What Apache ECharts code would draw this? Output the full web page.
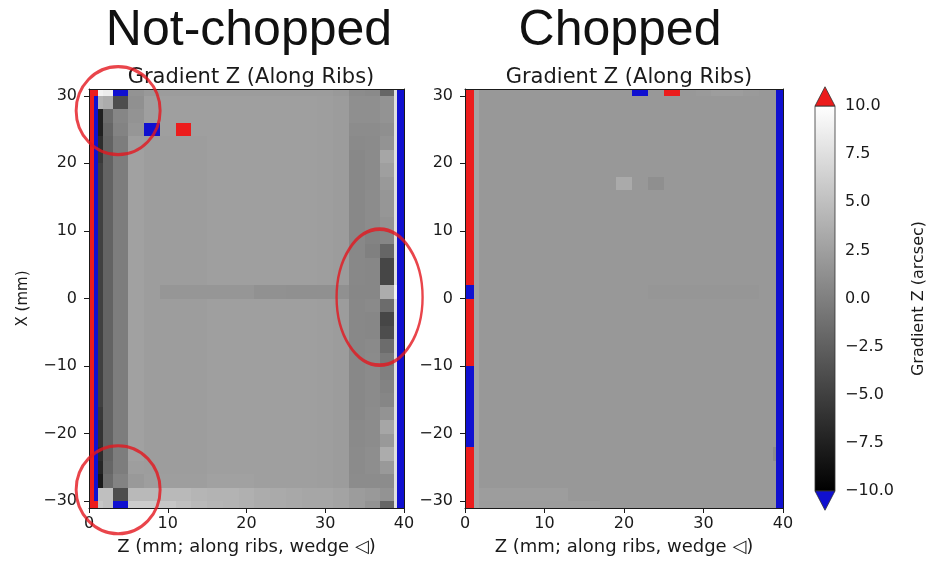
<!DOCTYPE html>
<html>
<head>
<meta charset="utf-8">
<title>Gradient Z (Along Ribs)</title>
<script src="https://cdn.jsdelivr.net/npm/echarts@6.0.0/dist/echarts.min.js"></script>
<style>
  html, body { margin: 0; padding: 0; background: #fff; }
  #chart { width: 928px; height: 561px; }
</style>
</head>
<body>
<div id="chart"></div>
<script>
// cell edges (mm). Z runs left -> right, X runs top -> bottom
const zEdges = [0, 0.6, 1.1, 1.8, 3, 5, 7, 9, 11, 13, 15, 17, 19, 21, 23, 25, 27, 29, 31, 33, 35, 37, 38.7, 39.1, 40];
const xEdges = [31, 30, 28, 26, 24, 22, 20, 18, 16, 14, 12, 10, 8, 6, 4, 2, 0,
  -2, -4, -6, -8, -10, -12, -14, -16, -18, -20, -22, -24, -26, -28, -30, -31];

// gradient Z (arcsec), one row per X band, top to bottom
const notChopped = [
  [12, 12, 9.0, 8.5, -12, 1.5, 2.0, 2.2, 2.2, 2.2, 2.2, 2.2, 2.2, 2.2, 2.2, 2.2, 2.2, 2.2, 2.0, 1.0, 0.8, -2.0, 7.5, -12],
  [12, -12, 4.0, 3.5, -4.0, 1.3, 2.5, 2.5, 2.5, 2.5, 2.5, 2.5, 2.5, 2.5, 2.5, 2.5, 2.5, 2.4, 2.2, 1.2, 1.2, 1.5, 7.5, -12],
  [12, -12, -7.5, -1.5, 0.5, 1.5, 2.5, 2.5, 2.5, 2.5, 2.5, 2.5, 2.5, 2.5, 2.5, 2.5, 2.5, 2.4, 2.2, 1.2, 1.2, 1.5, 7.5, -12],
  [12, -12, -7.5, -2.0, 0.3, 1.8, -12, 2.5, 12, 2.5, 2.5, 2.5, 2.5, 2.5, 2.5, 2.5, 2.5, 2.4, 2.2, 1.0, 1.0, 1.2, 7.5, -12],
  [12, -12, -6.5, -2.2, -0.2, 2.4, 2.3, 2.3, 2.3, 2.3, 2.5, 2.5, 2.5, 2.5, 2.5, 2.5, 2.5, 2.4, 2.2, 0.8, 0.9, 1.5, 7.5, -12],
  [12, -12, -5.5, -2.2, -0.2, 2.6, 2.3, 2.3, 2.3, 2.3, 2.5, 2.5, 2.5, 2.5, 2.5, 2.5, 2.5, 2.4, 2.2, 0.7, 0.9, 3.0, 7.5, -12],
  [12, -12, -5.0, -2.2, -0.2, 2.6, 2.3, 2.3, 2.3, 2.3, 2.5, 2.5, 2.5, 2.5, 2.5, 2.5, 2.5, 2.4, 2.2, 0.7, 0.9, 2.5, 7.5, -12],
  [12, -12, -5.0, -2.2, -0.2, 2.6, 2.3, 2.3, 2.3, 2.3, 2.5, 2.5, 2.5, 2.5, 2.5, 2.5, 2.5, 2.4, 2.2, 0.7, 0.9, 2.0, 7.5, -12],
  [12, -12, -5.0, -2.2, -0.2, 2.6, 2.3, 2.3, 2.3, 2.3, 2.5, 2.5, 2.5, 2.5, 2.5, 2.5, 2.5, 2.4, 2.2, 0.7, 1.0, 1.8, 7.5, -12],
  [12, -12, -5.0, -2.2, -0.2, 2.6, 2.3, 2.3, 2.3, 2.3, 2.5, 2.5, 2.5, 2.5, 2.5, 2.5, 2.5, 2.4, 2.2, 0.7, 1.0, 1.8, 7.5, -12],
  [12, -12, -5.0, -2.2, -0.2, 2.6, 2.3, 2.3, 2.3, 2.3, 2.5, 2.5, 2.5, 2.5, 2.5, 2.5, 2.5, 2.4, 2.2, 0.7, 1.0, 1.5, 7.5, -12],
  [12, -12, -5.0, -2.2, -0.2, 2.6, 2.3, 2.3, 2.3, 2.3, 2.5, 2.5, 2.5, 2.5, 2.5, 2.5, 2.5, 2.4, 2.2, 0.7, 0.3, 0.5, 7.5, -12],
  [12, -12, -5.0, -2.2, -0.2, 2.6, 2.3, 2.3, 2.3, 2.3, 2.5, 2.5, 2.5, 2.5, 2.5, 2.5, 2.5, 2.4, 2.2, 0.7, 0.0, -2.0, 7.5, -12],
  [12, -12, -5.0, -2.2, -0.2, 2.6, 2.3, 2.3, 2.3, 2.3, 2.5, 2.5, 2.5, 2.5, 2.5, 2.5, 2.5, 2.4, 2.2, 0.7, 0.6, -4.5, 7.5, -12],
  [12, -12, -5.0, -2.2, -0.2, 2.6, 2.3, 2.3, 2.3, 2.3, 2.5, 2.5, 2.5, 2.5, 2.5, 2.5, 2.5, 2.4, 2.2, 0.7, 0.6, -4.5, 7.5, -12],
  [12, -12, -5.0, -2.2, -0.2, 2.6, 2.3, 1.8, 1.8, 1.8, 1.8, 1.8, 1.8, 1.4, 1.4, 1.3, 1.3, 1.3, 1.3, 0.6, 0.6, 3.5, 9.0, -12],
  [12, -12, -5.0, -2.2, -0.2, 2.6, 2.3, 2.3, 2.3, 2.3, 2.5, 2.5, 2.5, 2.5, 2.5, 2.5, 2.5, 2.4, 2.2, 0.7, 0.8, -1.5, 7.5, -12],
  [12, -12, -5.0, -2.2, -0.2, 2.6, 2.3, 2.3, 2.3, 2.3, 2.5, 2.5, 2.5, 2.5, 2.5, 2.5, 2.5, 2.4, 2.2, 0.7, 0.6, -4.5, 7.5, -12],
  [12, -12, -5.0, -2.2, -0.2, 2.6, 2.3, 2.3, 2.3, 2.3, 2.5, 2.5, 2.5, 2.5, 2.5, 2.5, 2.5, 2.4, 2.2, 0.7, 0.6, -4.0, 7.5, -12],
  [12, -12, -5.0, -2.2, -0.2, 2.6, 2.3, 2.3, 2.3, 2.3, 2.5, 2.5, 2.5, 2.5, 2.5, 2.5, 2.5, 2.4, 2.2, 0.7, 0.8, -1.5, 7.5, -12],
  [12, -12, -5.0, -2.2, -0.2, 2.6, 2.3, 2.3, 2.3, 2.3, 2.5, 2.5, 2.5, 2.5, 2.5, 2.5, 2.5, 2.4, 2.2, 0.7, 0.9, -0.5, 7.5, -12],
  [12, -12, -5.0, -2.2, -0.2, 2.6, 2.3, 2.3, 2.3, 2.3, 2.5, 2.5, 2.5, 2.5, 2.5, 2.5, 2.5, 2.4, 2.2, 0.7, 0.9, 0.0, 7.5, -12],
  [12, -12, -5.0, -2.2, -0.2, 2.6, 2.3, 2.3, 2.3, 2.3, 2.5, 2.5, 2.5, 2.5, 2.5, 2.5, 2.5, 2.4, 2.2, 0.7, 0.9, 0.3, 7.5, -12],
  [12, -12, -5.0, -2.2, -0.2, 2.6, 2.3, 2.3, 2.3, 2.3, 2.5, 2.5, 2.5, 2.5, 2.5, 2.5, 2.5, 2.4, 2.2, 0.7, 0.9, 0.5, 7.5, -12],
  [12, -12, -5.5, -2.2, -0.2, 2.6, 2.3, 2.3, 2.3, 2.3, 2.5, 2.5, 2.5, 2.5, 2.5, 2.5, 2.5, 2.4, 2.2, 0.7, 1.0, 1.5, 7.5, -12],
  [12, -12, -6.0, -2.2, -0.2, 2.6, 2.3, 2.3, 2.3, 2.3, 2.5, 2.5, 2.5, 2.5, 2.5, 2.5, 2.5, 2.4, 2.2, 0.8, 1.0, 3.0, 7.5, -12],
  [12, -12, -6.0, -2.2, -0.2, 2.6, 2.3, 2.3, 2.3, 2.3, 2.5, 2.5, 2.5, 2.5, 2.5, 2.5, 2.5, 2.4, 2.2, 0.8, 1.0, 2.0, 7.5, -12],
  [12, -12, -6.5, -2.2, -0.2, 2.6, 2.3, 2.3, 2.3, 2.3, 2.5, 2.5, 2.5, 2.5, 2.5, 2.5, 2.5, 2.4, 2.2, 0.9, 1.1, 3.5, 7.5, -12],
  [12, -12, -7.0, -2.0, -0.2, 2.4, 2.3, 2.3, 2.3, 2.3, 2.5, 2.5, 2.5, 2.5, 2.5, 2.5, 2.5, 2.4, 2.2, 0.9, 1.1, 2.0, 7.5, -12],
  [12, -12, -8.0, -1.5, 0.3, 2.0, 2.4, 2.4, 2.4, 2.4, 2.6, 2.6, 2.6, 2.5, 2.5, 2.5, 2.5, 2.4, 2.2, 1.0, 1.0, 1.0, 7.5, -12],
  [12, -12, 5.0, 5.0, -4.0, 4.5, 4.5, 4.5, 4.5, 4.2, 4.0, 4.0, 3.8, 3.5, 3.3, 3.2, 3.0, 3.0, 2.8, 2.2, 2.0, 1.5, 7.5, -12],
  [12, 12, 5.5, 5.0, -12, 6.0, 6.0, 5.5, 5.0, 4.5, 4.2, 4.0, 3.8, 3.5, 3.3, 3.2, 3.0, 3.0, 2.8, 2.2, 1.5, -2.0, 7.5, -12]
];

const chopped = [
  [12, 12, 2.8, 1.9, 1.9, 1.9, 1.9, 1.9, 1.9, 1.9, 1.9, 1.9, 1.9, -12, 1.9, 12, 1.9, 2.1, 2.3, 2.3, 2.1, 1.9, 1.9, -12],
  [12, 12, 2.8, 1.9, 1.9, 1.9, 1.9, 1.9, 1.9, 1.9, 1.9, 1.9, 1.9, 1.9, 1.9, 1.9, 1.9, 1.9, 1.9, 1.9, 1.9, 1.9, 1.9, -12],
  [12, 12, 2.8, 1.9, 1.9, 1.9, 1.9, 1.9, 1.9, 1.9, 1.9, 1.9, 1.9, 1.9, 1.9, 1.9, 1.9, 1.9, 1.9, 1.9, 1.9, 1.9, 1.9, -12],
  [12, 12, 2.8, 1.9, 1.9, 1.9, 1.9, 1.9, 1.9, 1.9, 1.9, 1.9, 1.9, 1.9, 1.9, 1.9, 1.9, 1.9, 1.9, 1.9, 1.9, 1.9, 1.9, -12],
  [12, 12, 2.8, 1.9, 1.9, 1.9, 1.9, 1.9, 1.9, 1.9, 1.9, 1.9, 1.9, 1.9, 1.9, 1.9, 1.9, 1.9, 1.9, 1.9, 1.9, 1.9, 1.9, -12],
  [12, 12, 2.8, 1.9, 1.9, 1.9, 1.9, 1.9, 1.9, 1.9, 1.9, 1.9, 1.9, 1.9, 1.9, 1.9, 1.9, 1.9, 1.9, 1.9, 1.9, 1.9, 1.9, -12],
  [12, 12, 2.8, 1.9, 1.9, 1.9, 1.9, 1.9, 1.9, 1.9, 1.9, 1.9, 1.9, 1.9, 1.9, 1.9, 1.9, 1.9, 1.9, 1.9, 1.9, 1.9, 1.9, -12],
  [12, 12, 2.8, 1.9, 1.9, 1.9, 1.9, 1.9, 1.9, 1.9, 1.9, 1.9, 3.3, 1.9, 1.2, 1.9, 1.9, 1.9, 1.9, 1.9, 1.9, 1.9, 1.9, -12],
  [12, 12, 2.8, 1.9, 1.9, 1.9, 1.9, 1.9, 1.9, 1.9, 1.9, 1.9, 1.9, 1.9, 1.9, 1.9, 1.9, 1.9, 1.9, 1.9, 1.9, 1.9, 1.9, -12],
  [12, 12, 2.8, 1.9, 1.9, 1.9, 1.9, 1.9, 1.9, 1.9, 1.9, 1.9, 1.9, 1.9, 1.9, 1.9, 1.9, 1.9, 1.9, 1.9, 1.9, 1.9, 1.9, -12],
  [12, 12, 2.8, 1.9, 1.9, 1.9, 1.9, 1.9, 1.9, 1.9, 1.9, 1.9, 1.9, 1.9, 1.9, 1.9, 1.9, 1.9, 1.9, 1.9, 1.9, 1.9, 1.9, -12],
  [12, 12, 2.8, 1.9, 1.9, 1.9, 1.9, 1.9, 1.9, 1.9, 1.9, 1.9, 1.9, 1.9, 1.9, 1.9, 1.9, 1.9, 1.9, 1.9, 1.9, 1.9, 1.9, -12],
  [12, 12, 2.8, 1.9, 1.9, 1.9, 1.9, 1.9, 1.9, 1.9, 1.9, 1.9, 1.9, 1.9, 1.9, 1.9, 1.9, 1.9, 1.9, 1.9, 1.9, 1.9, 1.9, -12],
  [12, 12, 2.8, 1.9, 1.9, 1.9, 1.9, 1.9, 1.9, 1.9, 1.9, 1.9, 1.9, 1.9, 1.9, 1.9, 1.9, 1.9, 1.9, 1.9, 1.9, 1.9, 1.9, -12],
  [12, 12, 2.8, 1.9, 1.9, 1.9, 1.9, 1.9, 1.9, 1.9, 1.9, 1.9, 1.9, 1.9, 1.9, 1.9, 1.9, 1.9, 1.9, 1.9, 1.9, 1.9, 1.9, -12],
  [-12, -12, 2.8, 1.9, 1.9, 1.9, 1.9, 1.9, 1.9, 1.9, 1.9, 1.9, 1.9, 1.9, 1.75, 1.75, 1.75, 1.75, 1.75, 1.75, 1.75, 1.9, 1.9, -12],
  [12, 12, 2.8, 1.9, 1.9, 1.9, 1.9, 1.9, 1.9, 1.9, 1.9, 1.9, 1.9, 1.9, 1.9, 1.9, 1.9, 1.9, 1.9, 1.9, 1.9, 1.9, 1.9, -12],
  [12, 12, 2.8, 1.9, 1.9, 1.9, 1.9, 1.9, 1.9, 1.9, 1.9, 1.9, 1.9, 1.9, 1.9, 1.9, 1.9, 1.9, 1.9, 1.9, 1.9, 1.9, 1.9, -12],
  [12, 12, 2.8, 1.9, 1.9, 1.9, 1.9, 1.9, 1.9, 1.9, 1.9, 1.9, 1.9, 1.9, 1.9, 1.9, 1.9, 1.9, 1.9, 1.9, 1.9, 1.9, 1.9, -12],
  [12, 12, 2.8, 1.9, 1.9, 1.9, 1.9, 1.9, 1.9, 1.9, 1.9, 1.9, 1.9, 1.9, 1.9, 1.9, 1.9, 1.9, 1.9, 1.9, 1.9, 1.9, 1.9, -12],
  [12, 12, 2.8, 1.9, 1.9, 1.9, 1.9, 1.9, 1.9, 1.9, 1.9, 1.9, 1.9, 1.9, 1.9, 1.9, 1.9, 1.9, 1.9, 1.9, 1.9, 1.9, 1.9, -12],
  [-12, -12, 2.8, 1.9, 1.9, 1.9, 1.9, 1.9, 1.9, 1.9, 1.9, 1.9, 1.9, 1.9, 1.9, 1.9, 1.9, 1.9, 1.9, 1.9, 1.9, 1.9, 1.9, -12],
  [-12, -12, 2.8, 1.9, 1.9, 1.9, 1.9, 1.9, 1.9, 1.9, 1.9, 1.9, 1.9, 1.9, 1.9, 1.9, 1.9, 1.9, 1.9, 1.9, 1.9, 1.9, 1.9, -12],
  [-12, -12, 2.8, 1.9, 1.9, 1.9, 1.9, 1.9, 1.9, 1.9, 1.9, 1.9, 1.9, 1.9, 1.9, 1.9, 1.9, 1.9, 1.9, 1.9, 1.9, 1.9, 1.9, -12],
  [-12, -12, 2.8, 1.9, 1.9, 1.9, 1.9, 1.9, 1.9, 1.9, 1.9, 1.9, 1.9, 1.9, 1.9, 1.9, 1.9, 1.9, 1.9, 1.9, 1.9, 1.9, 1.9, -12],
  [-12, -12, 2.8, 1.9, 1.9, 1.9, 1.9, 1.9, 1.9, 1.9, 1.9, 1.9, 1.9, 1.9, 1.9, 1.9, 1.9, 1.9, 1.9, 1.9, 1.9, 1.9, 1.9, -12],
  [-12, -12, 2.8, 1.9, 1.9, 1.9, 1.9, 1.9, 1.9, 1.9, 1.9, 1.9, 1.9, 1.9, 1.9, 1.9, 1.9, 1.9, 1.9, 1.9, 1.9, 1.9, 1.9, -12],
  [12, 12, 2.8, 1.9, 1.9, 1.9, 1.9, 1.9, 1.9, 1.9, 1.9, 1.9, 1.9, 1.9, 1.9, 1.9, 1.9, 1.9, 1.9, 1.9, 1.9, 1.9, 1.0, -12],
  [12, 12, 2.8, 1.9, 1.9, 1.9, 1.9, 1.9, 1.9, 1.9, 1.9, 1.9, 1.9, 1.9, 1.9, 1.9, 1.9, 1.9, 1.9, 1.9, 1.9, 1.9, 1.9, -12],
  [12, 12, 2.8, 1.9, 1.9, 1.9, 1.9, 1.9, 1.9, 1.9, 1.9, 1.9, 1.9, 1.9, 1.9, 1.9, 1.9, 1.9, 1.9, 1.9, 1.9, 1.9, 1.9, -12],
  [12, 12, 2.8, 2.3, 2.3, 2.3, 2.3, 2.3, 2.3, 1.9, 1.9, 1.9, 1.9, 1.9, 1.9, 1.9, 1.9, 1.9, 1.9, 1.9, 1.9, 1.9, 1.9, -12],
  [12, 12, 2.8, 2.2, 2.2, 2.2, 2.2, 2.2, 2.2, 2.2, 2.2, 1.9, 1.9, 1.9, 1.9, 1.9, 1.9, 1.9, 1.9, 1.9, 1.9, 1.9, 1.9, -12]
];

const zTicks = [0, 10, 20, 30, 40];
const xTicks = [-30, -20, -10, 0, 10, 20, 30];
const cbRange = [-10, 10];
const cbExtend = [[10, 11], [-10, -11]]; // over / under triangles (arcsec)
const ringCenters = [[3.7, 27.8], [3.7, -28.3], [36.9, 0.2]]; // highlighted areas, (Z, X)

// styles
const ringSizes = [[84, 88], [84, 88], [86, 136]];
const OVER = '#ec1c1c';
const UNDER = '#1010d0';
const INK = '#1a1a1a';
const FONT = 'DejaVu Sans';

const cellColor = v => {
  if (v > cbRange[1]) return OVER;
  if (v < cbRange[0]) return UNDER;
  const g = Math.round((v - cbRange[0]) / (cbRange[1] - cbRange[0]) * 255);
  return 'rgb(' + g + ',' + g + ',' + g + ')';
};

const toCells = grid => {
  const out = [];
  grid.forEach((row, i) => {
    row.forEach((v, j) => {
      out.push([zEdges[j], zEdges[j + 1], xEdges[i + 1], xEdges[i], v]);
    });
  });
  return out;
};

const renderCell = (params, api) => {
  const a = api.coord([api.value(0), api.value(3)]);
  const b = api.coord([api.value(1), api.value(2)]);
  const x0 = Math.round(a[0]), y0 = Math.round(a[1]);
  const x1 = Math.round(b[0]), y1 = Math.round(b[1]);
  return {
    type: 'rect',
    shape: { x: x0, y: y0, width: x1 - x0, height: y1 - y0 },
    style: { fill: cellColor(api.value(4)) }
  };
};

const minus = v => (v < 0 ? '\u2212' + Math.abs(v) : '' + v);

const bottomAxis = gridIndex => ({
  type: 'value', gridIndex, min: zTicks[0], max: zTicks[zTicks.length - 1], interval: 10, z: 5,
  axisLine: { onZero: false, lineStyle: { color: INK, width: 1 } },
  axisTick: { length: 5, lineStyle: { color: INK } },
  axisLabel: { color: INK, fontFamily: FONT, fontSize: 16, margin: 8, formatter: minus },
  splitLine: { show: false },
  name: 'Z (mm; along ribs, wedge \u25C1)',
  nameLocation: 'middle', nameGap: 30,
  nameTextStyle: { color: INK, fontFamily: FONT, fontSize: 18 }
});

const topAxis = gridIndex => ({
  type: 'value', gridIndex, min: zTicks[0], max: zTicks[zTicks.length - 1], position: 'top', z: 5,
  axisLine: { onZero: false, lineStyle: { color: INK, width: 1 } },
  axisTick: { show: false }, axisLabel: { show: false }, splitLine: { show: false }
});

const leftAxis = (gridIndex, name) => ({
  type: 'value', gridIndex, min: -31, max: 31, z: 5,
  axisLine: { onZero: false, lineStyle: { color: INK, width: 1 } },
  axisTick: { length: 5, lineStyle: { color: INK }, customValues: xTicks },
  axisLabel: { color: INK, fontFamily: FONT, fontSize: 16, margin: 12, formatter: minus, customValues: xTicks },
  splitLine: { show: false },
  name, nameLocation: 'middle', nameGap: 58, nameRotate: 90,
  nameTextStyle: { color: INK, fontFamily: FONT, fontSize: 15 }
});

const rightAxis = gridIndex => ({
  type: 'value', gridIndex, min: -31, max: 31, position: 'right', z: 5,
  axisLine: { onZero: false, lineStyle: { color: INK, width: 1 } },
  axisTick: { show: false }, axisLabel: { show: false }, splitLine: { show: false }
});

const chart = echarts.init(document.getElementById('chart'));

chart.setOption({
  animation: false,
  backgroundColor: '#fff',
  title: [
    { text: 'Not-chopped', left: 244, top: 1, textAlign: 'center',
      textStyle: { fontFamily: 'Liberation Sans', fontSize: 50, fontWeight: 'normal', color: '#111' } },
    { text: 'Chopped', left: 615, top: 1, textAlign: 'center',
      textStyle: { fontFamily: 'Liberation Sans', fontSize: 50, fontWeight: 'normal', color: '#111' } },
    { text: 'Gradient Z (Along Ribs)', left: 246, top: 62, textAlign: 'center',
      textStyle: { fontFamily: FONT, fontSize: 21, fontWeight: 'normal', color: INK } },
    { text: 'Gradient Z (Along Ribs)', left: 624, top: 62, textAlign: 'center',
      textStyle: { fontFamily: FONT, fontSize: 21, fontWeight: 'normal', color: INK } }
  ],
  grid: [
    { left: 89, top: 89, width: 315, height: 421 },
    { left: 465, top: 89, width: 318, height: 421 },
    { left: 815, top: 106, width: 23, height: 385 }
  ],
  xAxis: [
    bottomAxis(0),
    bottomAxis(1),
    topAxis(0),
    topAxis(1),
    { type: 'value', gridIndex: 2, min: 0, max: 1, show: false }
  ],
  yAxis: [
    leftAxis(0, 'X (mm)'),
    leftAxis(1, ''),
    rightAxis(0),
    rightAxis(1),
    {
      type: 'value', gridIndex: 2, min: cbRange[0], max: cbRange[1], interval: 2.5, position: 'right',
      axisLine: { show: false },
      axisTick: { length: 5, lineStyle: { color: INK } },
      axisLabel: { color: INK, fontFamily: FONT, fontSize: 16, margin: 10,
        formatter: v => (v < 0 ? '\u2212' + Math.abs(v).toFixed(1) : v.toFixed(1)) },
      splitLine: { show: false },
      name: 'Gradient Z (arcsec)', nameLocation: 'middle', nameGap: 76, nameRotate: 90,
      nameTextStyle: { color: INK, fontFamily: FONT, fontSize: 16 }
    }
  ],
  series: [
    {
      type: 'custom', name: 'Not-chopped', xAxisIndex: 0, yAxisIndex: 0,
      renderItem: renderCell, encode: { x: [0, 1], y: [2, 3] },
      data: toCells(notChopped), silent: true
    },
    {
      type: 'custom', name: 'Chopped', xAxisIndex: 1, yAxisIndex: 1,
      renderItem: renderCell, encode: { x: [0, 1], y: [2, 3] },
      data: toCells(chopped), silent: true
    },
    {
      // colour bar body
      type: 'custom', xAxisIndex: 4, yAxisIndex: 4, silent: true,
      data: [cbRange],
      renderItem: (params, api) => {
        const a = api.coord([0, api.value(1)]);
        const b = api.coord([1, api.value(0)]);
        return {
          type: 'rect',
          shape: { x: a[0], y: a[1], width: b[0] - a[0], height: b[1] - a[1] },
          style: {
            fill: new echarts.graphic.LinearGradient(0, 0, 0, 1, [
              { offset: 0, color: '#fff' },
              { offset: 1, color: '#000' }
            ]),
            stroke: '#333', lineWidth: 0.8
          }
        };
      }
    },
    {
      // extension triangles
      type: 'custom', xAxisIndex: 4, yAxisIndex: 4, silent: true, clip: false,
      data: cbExtend,
      renderItem: (params, api) => {
        const base = api.value(0), tip = api.value(1);
        const p0 = api.coord([0, base]);
        const p1 = api.coord([1, base]);
        const p2 = api.coord([0.5, tip]);
        return {
          type: 'polygon',
          shape: { points: [p0, p1, p2] },
          style: { fill: tip > base ? OVER : UNDER, stroke: '#333', lineWidth: 0.8 }
        };
      }
    },
    {
      // red rings marking the edge effects
      type: 'scatter', xAxisIndex: 0, yAxisIndex: 0, silent: true, clip: false, z: 20,
      symbol: 'circle',
      data: ringCenters.map((c, i) => ({ value: c, symbolSize: ringSizes[i] })),
      itemStyle: { color: 'rgba(0,0,0,0)', borderColor: '#e3161e', borderWidth: 3 }
    }
  ]
});
</script>
</body>
</html>
